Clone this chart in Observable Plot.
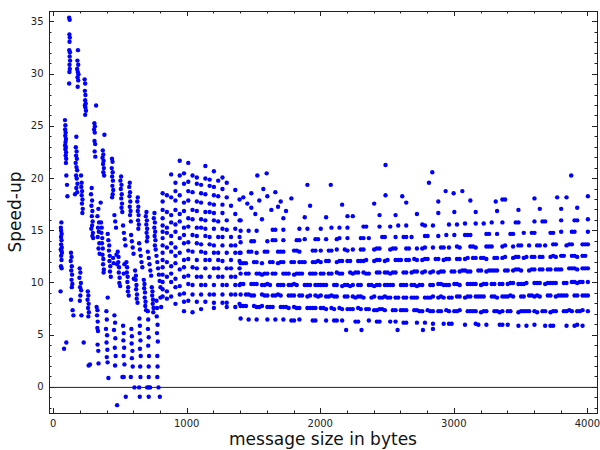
<!DOCTYPE html>
<html><head><meta charset="utf-8">
<script src="https://cdn.jsdelivr.net/npm/d3@7"></script>
<script src="https://cdn.jsdelivr.net/npm/@observablehq/plot@0.6"></script>
<style>body{margin:0;background:#fff}svg{display:block}</style>
</head><body><div id="chart"></div>
<script>
// ---- tick labels / axis titles ----
const xTicks = [0, 1000, 2000, 3000, 4000];
const yTicks = [0, 5, 10, 15, 20, 25, 30, 35];
const xMinorTicks = [200,400,600,800,1200,1400,1600,1800,2200,2400,2600,2800,3200,3400,3600,3800];
const yMinorTicks = [-2,-1,1,2,3,4,6,7,8,9,11,12,13,14,16,17,18,19,21,22,23,24,26,27,28,29,31,32,33,34];
const xTitle = "message size in bytes";
const yTitle = "Speed-up";

// ---- small message sizes: columns of points [size, speed-up] ----
const leftTop = [
 [116,35.4],[120,35.2],[118,33.8],[121,33.5],[119,33.1],[117,32.3],[122,32.1],[120,31.7],[123,31.3],[119,30.9],[121,30.5],[118,30.2],[116,29.1],
 [85,25.6],[88,25.1],[86,24.7],[90,24.4],[87,24.1],[92,23.8],[89,23.5],[86,23.2],[91,23.0],[88,22.8],[93,22.5],[90,22.2],[94,21.9],[92,21.5],[95,20.3],[100,19.4],[103,18.3],
 [182,32.3],[178,31.3],[184,30.9],[176,30.5],[181,30.2],[186,30.0],[179,29.7],[184,29.4],[180,28.8],
 [170,24.0],[166,23.0],[172,22.6],[168,22.2],[174,21.9],[165,21.5],[171,21.1],[176,20.8],[168,20.3],[173,20.0],[178,19.5],[170,19.1],[176,18.7],[160,18.5],
 [232,29.5],[236,29.1],[234,28.4],[238,28.0],[236,27.5],[240,27.2],[234,27.0],[238,26.8],[242,26.5],[236,26.1],
 [205,20.3],[210,19.6],[207,19.2],[213,18.8],[210,18.4],[216,18.0],[212,17.6],[218,17.1],[215,16.7],
 [318,27.0],[305,25.3],[309,25.0],[303,24.7],[308,24.4],[306,23.6],[311,23.3],[307,22.6],[312,22.1],
 [285,19.1],[280,18.5],[288,17.9],[283,17.4],[290,16.9],[286,16.4],[292,15.9],[288,15.5],[282,15.2],[294,14.8],[290,14.5],[296,14.3],
 [380,24.2],[368,22.7],[372,22.3],[366,22.0],[374,21.7],[370,21.4],[376,21.0],[372,20.6],[378,20.3],[352,17.7],
 [437,21.9],[441,21.6],[435,21.0],[442,20.6],[438,20.2],[444,19.8],[440,19.3],[446,18.9],[442,18.5],[438,18.2],
 [505,20.2],[500,19.8],[508,19.4],[503,19.0],[510,18.5],[506,18.1],[512,17.6],[508,17.2],[514,16.8],
 [570,19.6],[566,19.2],[572,18.7],[568,18.3],[574,17.8],[570,17.3],[576,16.9],[572,16.5],[578,15.9],
 [630,18.2],[626,17.8],[634,17.3],[630,16.9],[636,16.5],[632,16.0],[638,15.6],[634,15.2],
 [695,16.8],[690,16.4],[698,16.0],[694,15.6],[700,15.2],[696,14.8],[702,14.4],[698,14.0],
 [755,16.7],[750,16.2],[758,15.8],[754,15.3],[760,14.9],[756,14.5],[762,14.1],[758,13.6],[764,13.2]
];
const leftMid = [
 [58,15.8],[54,15.3],[56,15.0],[60,14.7],[55,14.4],[59,14.1],[56,13.7],[61,13.4],[53,13.2],[58,13.1],[62,12.9],[56,12.6],[59,12.2],[55,11.6],[60,11.4],[52,9.2],
 [130,12.9],[134,12.5],[128,12.1],[136,11.6],[132,11.2],[138,10.8],[134,10.3],[140,9.9],[136,9.6],[130,8.4],[142,7.4],[148,6.9],
 [195,11.4],[200,11.0],[193,10.5],[204,10.0],[198,9.6],[206,9.3],[200,8.8],[196,8.3],[208,6.9],
 [256,9.2],[260,8.8],[254,8.4],[262,8.0],[258,7.6],[264,7.2],[260,6.8],
 [335,17.1],[328,16.4],[340,15.8],[332,15.3],[338,14.9],[330,14.4],[342,13.8],[336,13.3],[344,12.8],
 [355,15.8],[360,15.3],[358,14.8],[364,14.3],[362,13.8],[368,13.3],[366,12.7],[372,12.3],[370,11.8],[376,11.3],[374,11.0],
 [405,14.7],[410,14.1],[416,13.6],[414,13.1],[420,12.6],[418,12.1],[424,11.6],[422,11.1],[428,10.6],[445,12.4],[450,11.9],[405,8.6],
 [455,16.5],[461,15.9],[467,15.3],
 [470,12.7],[475,11.8],[480,13.0],[486,12.5],[484,12.0],[490,11.5],[488,11.0],[494,10.5],[492,10.0],[498,9.7],
 [520,15.5],[526,14.8],[532,14.2],[538,13.6],
 [530,11.8],[525,10.9],[545,12.0],[550,11.5],[548,11.0],[554,10.6],[552,10.1],[558,9.6],[556,9.2],[562,8.8],
 [580,14.6],[586,14.0],[592,13.4],[598,12.8],
 [600,10.4],[610,11.2],[616,10.7],[614,10.3],[620,9.8],[618,9.4],[624,8.9],[622,8.5],[628,8.1],
 [640,13.8],[646,13.2],[652,12.6],[658,12.0],[664,11.5],
 [675,10.3],[680,9.9],[678,9.5],[684,9.1],[682,8.6],[688,8.2],[686,7.8],[692,7.4],
 [705,13.0],[712,12.4],[718,11.8],[724,11.2],[730,10.7],
 [735,9.6],[740,9.2],[738,8.8],[744,8.4],[742,8.0],[748,7.6],[746,7.2],
 [770,12.6],[776,12.0],[782,11.4],[788,10.8],[794,10.2],[800,9.6],[800,8.6],[805,7.7]
];
const leftLow = [
 [78,3.7],[95,4.3],[225,4.3],[262,2.1],[272,2.2],
 [322,7.7],[328,7.4],[325,6.9],[330,6.3],[327,5.7],[332,5.4],[329,4.1],[334,3.5],[336,2.3],
 [395,7.3],[398,6.5],[392,5.6],[400,5.0],[396,4.3],[402,3.6],[398,2.9],[404,2.4],[410,0.9],
 [455,6.9],[460,6.2],[452,5.5],[462,4.7],[458,3.8],[464,3.0],[460,2.1],[475,-1.7],
 [520,5.9],[525,5.2],[522,4.5],[528,3.8],[524,3.0],[530,2.2],[515,1.0],[525,1.0],[540,-0.9],
 [582,5.6],[586,4.9],[584,4.2],[590,3.5],[586,2.8],[592,2.0],[578,1.0],[605,0.0],
 [642,6.6],[646,5.9],[644,5.2],[650,4.5],[646,3.7],[652,3.0],[648,2.0],[650,1.0],[640,0.0],[645,-0.9],
 [705,7.3],[708,6.5],[706,5.6],[712,4.8],[708,4.0],[714,3.0],[712,2.0],[712,1.0],[700,0.0],[712,0.0],[722,0.0],[712,-0.9],
 [770,8.3],[774,7.6],[772,6.8],[778,6.0],[774,5.2],[780,4.4],[776,3.0],[778,2.0],[776,1.0],[785,0.0],[795,-0.9]
];

// ---- medium sizes: rows of speed-up on a shared size grid ----
const sizesMid = [816,848,880,912,944,976,1008,1040,1072,1104,1136,1168,1200,1232,1264,1296,1328,1360,1392];
const midRows = [
 [18.6,null,20.4,null,21.7,null,21.5,null,null,null,21.2,null,20.7,null,20.1,null,null,null,null],
 [17.8,18.4,null,19.6,20.3,20.5,null,20.3,20.1,null,20.0,19.9,null,19.8,null,19.6,null,null,null],
 [17.0,null,18.2,18.8,null,19.5,19.7,null,19.5,19.4,null,19.3,19.2,null,19.0,null,null,18.9,null],
 [16.2,16.8,null,17.9,18.4,null,18.8,18.7,null,18.6,18.5,null,18.4,18.3,null,18.2,null,null,18.0],
 [15.5,null,16.5,17.0,null,17.7,17.9,null,17.8,17.7,null,17.6,17.5,null,17.5,null,17.4,null,null],
 [14.9,15.3,15.8,null,16.6,16.9,null,17.0,16.9,null,16.8,16.8,16.7,null,16.7,null,null,16.6,null],
 [14.3,14.8,null,15.6,15.9,null,16.2,16.1,null,16.1,16.0,null,16.0,15.9,null,16.0,null,null,16.0],
 [13.6,null,14.5,14.9,null,15.3,15.4,null,15.3,15.3,15.2,null,15.2,null,15.2,15.1,null,15.2,null],
 [12.9,13.4,13.8,null,14.3,14.6,null,14.6,14.5,null,14.5,14.4,null,14.4,14.4,null,14.4,null,14.4],
 [12.2,null,13.0,13.4,null,13.8,13.9,null,13.8,13.7,null,13.7,13.6,null,13.6,null,13.6,13.6,null],
 [11.5,12.0,null,12.6,12.9,null,13.1,13.0,null,13.0,12.9,null,12.9,12.9,null,12.9,null,12.9,12.9],
 [10.8,null,11.6,11.9,null,12.2,12.3,null,12.2,null,12.2,12.2,null,12.2,12.1,null,12.2,null,12.1],
 [10.1,10.6,10.9,null,11.3,11.5,null,11.5,11.4,null,11.4,null,11.4,11.4,null,11.4,11.4,null,11.4],
 [9.4,null,10.1,10.4,null,10.6,10.7,null,10.6,10.6,null,10.6,null,10.6,10.6,null,10.6,10.6,null],
 [8.7,9.2,null,9.6,9.7,null,9.9,9.8,null,9.8,9.8,null,9.8,null,9.8,9.8,null,9.8,9.8],
 [null,8.5,8.7,null,8.9,9.0,null,8.9,null,8.9,null,8.9,8.9,null,8.9,null,8.9,8.9,null],
 [null,null,null,8.0,null,8.2,8.3,null,8.2,null,8.2,null,8.1,null,8.1,8.1,null,null,8.0],
 [null,null,null,null,null,7.3,null,7.2,null,7.5,null,null,7.6,null,null,7.7,null,7.7,null]
];

// ---- large sizes: rows of speed-up on two interleaved size grids ----
const sizesRight = [1400,1440,1480,1520,1560,1600,1640,1680,1720,1760,1800,1840,1880,1920,1960,2000,2040,2080,2120,2160,2200,2240,2280,2320,2360,2400,2440,2480,2520,2560,2600,2640,2680,2720,2760,2800,2840,2880,2920,2960,3000,3040,3080,3120,3160,3200,3240,3280,3320,3360,3400,3440,3480,3520,3560,3600,3640,3680,3720,3760,3800,3840,3880,3920,3960,4000];
const rightRows = [
 [6.6,null,null,6.5,null,6.5,null,null,6.5,null,6.4,6.5,null,null,6.4,
  null,6.4,null,6.4,6.4,null,null,6.3,null,6.4,null,6.3,null,6.3,6.3,
  null,6.2,null,6.2,null,null,6.1,null,6.1,6.1,null,null,6.0,null,6.1,
  null,6.0,null,null,6.0,6.0,null,5.9,null,null,6.0,null,5.9,5.9,null,null,5.9,null,6.0,5.9,null],
 [7.8,7.8,null,7.7,7.8,7.7,7.7,null,7.7,7.6,7.7,7.6,null,7.6,7.6,
  7.6,7.5,7.6,null,7.5,7.5,7.5,7.6,null,7.5,7.4,7.5,7.4,null,7.4,
  7.4,7.4,null,7.4,7.3,7.4,7.3,7.3,null,7.3,7.3,7.4,null,7.3,7.3,
  7.2,7.3,null,7.3,7.3,7.3,null,7.2,7.3,7.3,7.3,null,7.3,7.2,7.3,null,7.3,7.3,7.3,7.4,7.3],
 [8.9,8.9,8.8,null,8.9,8.8,8.8,8.9,null,8.8,8.8,8.8,null,8.8,8.8,
  8.8,8.7,8.8,8.7,null,8.7,8.7,8.7,8.6,null,8.7,8.6,8.7,8.6,8.6,
  null,8.6,8.6,8.6,null,8.6,8.7,8.6,8.6,8.6,null,8.7,8.6,8.7,8.7,
  8.7,null,8.7,8.6,8.7,8.7,8.7,null,8.7,8.8,8.7,8.7,null,8.8,8.7,8.8,8.8,null,8.8,8.8,8.8],
 [9.9,null,9.9,9.9,9.8,9.9,null,9.8,9.8,9.8,9.9,null,9.8,9.8,9.8,
  9.8,9.8,null,9.8,9.7,9.8,9.8,9.8,null,9.8,9.7,9.8,9.8,9.8,null,
  9.8,9.8,9.8,9.7,9.8,null,9.8,9.9,9.8,9.8,9.9,9.8,null,9.9,9.9,
  9.8,9.9,9.9,null,9.9,9.9,10.0,9.9,9.9,null,10.0,10.0,9.9,10.0,10.0,null,10.0,10.1,10.0,10.1,10.1],
 [10.9,10.9,null,10.9,10.8,10.9,10.9,null,10.9,10.9,10.8,10.9,null,10.9,10.9,
  10.9,null,10.9,11.0,10.9,null,10.9,11.0,11.0,10.9,null,11.0,11.0,10.9,11.0,
  null,11.0,11.0,11.1,11.0,null,11.1,11.0,11.1,null,11.1,11.1,11.2,11.1,null,
  11.2,11.1,11.2,11.2,null,11.2,11.2,11.3,null,11.2,11.3,11.3,null,11.3,11.3,11.3,null,11.4,11.3,11.4,11.4],
 [11.9,11.9,null,12.0,11.9,null,12.0,11.9,12.0,null,12.0,12.0,12.0,null,12.0,
  12.0,12.1,null,12.0,12.1,12.1,null,12.1,12.1,null,12.1,12.2,12.1,null,12.2,
  12.2,12.2,null,12.2,12.2,12.3,null,12.3,12.2,12.3,null,12.3,12.3,null,12.4,
  12.4,12.3,null,12.4,12.4,null,12.4,12.5,12.4,null,12.5,12.5,null,12.5,12.5,12.6,null,12.6,12.5,12.6,null],
 [12.9,null,13.0,12.9,null,13.0,null,13.0,13.0,null,13.1,13.0,null,null,13.1,
  13.1,null,13.1,13.2,null,13.1,13.2,null,13.2,null,13.2,13.3,null,13.2,13.3,
  null,13.3,null,13.3,13.3,null,13.4,null,13.4,13.4,null,13.4,null,13.5,13.4,
  null,13.5,13.5,null,13.5,null,13.5,13.6,null,13.6,null,13.6,13.6,null,13.7,null,13.6,13.7,null,13.7,13.7],
 [13.9,null,14.0,null,null,14.0,14.1,null,14.1,null,null,14.1,14.2,null,14.2,
  null,14.2,null,14.2,null,14.3,null,null,14.3,14.3,null,null,14.4,null,14.4,
  null,14.4,14.4,null,null,14.5,null,14.5,null,null,14.6,null,14.6,14.6,null,
  null,14.7,null,14.7,null,null,14.7,null,14.8,null,14.8,null,null,14.8,null,14.9,null,14.9,null,null,14.9],
 [15.0,null,null,15.0,null,null,15.1,null,15.1,null,null,15.2,null,null,null,
  15.2,null,15.3,null,null,15.3,null,null,15.4,null,null,15.4,null,15.4,null,
  null,15.5,null,null,15.6,null,15.5,null,null,15.6,null,null,15.7,null,15.7,
  null,null,15.8,null,15.8,null,null,15.8,null,null,15.9,null,15.9,null,null,16.0,null,null,16.0,null,16.1],
 [16.0,null,null,null,16.1,null,null,null,16.2,null,null,null,16.3,null,null,
  null,16.3,null,null,null,16.4,16.4,null,null,null,null,16.5,null,null,16.5,
  null,null,null,16.6,null,null,null,16.7,null,null,16.8,null,null,null,16.8,
  null,null,null,16.9,null,null,null,17.0,null,null,null,17.1,null,null,null,17.1,null,null,17.2,null,null],
 [null,null,17.2,null,null,null,null,17.3,null,null,null,null,null,17.4,null,
  null,null,null,null,17.5,null,null,null,null,null,17.6,null,null,null,null,
  null,17.7,null,null,null,null,null,17.8,null,null,null,null,null,17.9,null,
  null,null,null,null,18.0,null,null,null,null,null,18.1,null,null,null,null,null,18.2,null,null,null,18.3]
];
const sizesRight2 = [1420,1460,1500,1540,1580,1620,1660,1700,1740,1780,1820,1860,1900,1940,1980,2020,2060,2100,2140,2180,2220,2260,2300,2340,2380,2420,2460,2500,2540,2580,2620,2660,2700,2740,2780,2820,2860,2900,2940,2980,3020,3060,3100,3140,3180,3220,3260,3300,3340,3380,3420,3460,3500,3540,3580,3620,3660,3700,3740,3780,3820,3860,3900,3940,3980];
const rightRows2 = [
 [null,6.5,null,null,null,null,6.5,null,null,6.4,null,null,null,6.4,null,
  null,null,6.4,null,null,null,6.3,null,null,null,6.3,null,null,null,null,
  6.2,null,null,null,6.2,null,null,null,null,6.1,null,null,null,null,6.0,
  null,null,null,6.0,null,null,null,null,5.9,null,null,null,null,5.9,null,null,null,5.9,null,null],
 [7.8,null,7.8,7.7,null,7.7,null,7.7,7.7,null,7.6,null,7.6,7.6,null,
  7.6,null,7.5,7.6,null,7.5,null,7.5,7.5,null,7.4,7.5,null,7.4,null,
  7.4,null,7.4,7.3,null,7.3,null,7.3,7.4,null,7.3,null,7.3,7.3,null,
  7.3,null,7.3,7.2,null,7.3,null,7.3,7.3,null,7.2,7.3,null,7.3,null,7.3,7.4,null,7.3,null],
 [null,8.9,8.8,null,8.8,null,8.8,8.8,null,8.8,null,8.8,8.7,null,8.7,
  null,8.7,8.7,null,8.7,null,8.6,8.7,null,8.6,null,8.6,8.6,null,8.6,
  8.6,null,8.6,null,8.6,8.6,null,8.7,null,8.6,8.7,null,8.7,null,8.7,
  8.7,null,8.7,null,8.7,8.8,null,8.7,null,8.8,8.8,null,8.8,null,8.8,8.8,null,8.8,null,8.8],
 [9.9,null,9.9,null,9.8,9.8,null,9.8,null,9.8,9.8,null,9.8,null,9.8,
  9.8,null,9.8,null,9.8,9.7,null,9.8,null,9.8,9.8,null,9.8,9.8,null,
  9.8,null,9.8,9.8,null,9.8,null,9.9,9.8,null,9.9,null,9.9,9.9,null,
  9.9,null,9.9,9.9,null,10.0,null,9.9,10.0,null,10.0,null,10.0,10.0,null,10.0,null,10.1,10.1,null],
 [null,10.9,null,10.9,10.9,null,10.9,null,10.9,null,10.9,10.9,null,10.9,null,
  10.9,10.9,null,10.9,null,11.0,11.0,null,10.9,null,11.0,null,11.0,11.0,null,
  11.0,null,11.1,null,11.1,11.0,null,11.1,null,11.1,null,11.2,11.1,null,11.2,
  null,11.2,11.2,null,11.2,null,11.3,11.2,null,11.3,null,11.3,11.3,null,11.3,null,11.4,11.4,null,11.4],
 [11.9,null,12.0,null,null,12.0,null,12.0,null,12.0,null,12.0,null,12.0,12.1,
  null,12.1,null,12.1,null,12.1,null,12.1,12.2,null,12.2,null,12.2,null,12.2,
  null,12.2,12.3,null,12.3,null,12.3,null,12.3,null,12.3,null,12.4,12.4,null,
  12.4,null,12.4,null,12.5,null,12.5,null,12.5,12.5,null,12.5,null,12.6,null,12.6,null,12.6,null,12.6],
 [null,13.0,null,null,13.0,null,null,13.0,null,null,13.1,null,null,13.1,null,
  null,13.1,null,null,13.2,null,null,13.2,null,null,13.3,null,null,13.3,null,
  null,13.3,null,null,13.4,null,null,13.4,null,null,13.5,null,null,13.5,null,
  null,13.5,null,null,13.6,null,null,13.6,null,null,13.6,null,null,13.7,null,null,13.7,null,null,13.7],
 [null,null,14.0,null,null,null,14.1,null,null,null,14.1,null,null,null,14.2,
  null,null,null,14.3,null,null,null,14.3,null,null,null,14.4,null,null,null,
  14.4,null,null,null,14.5,null,null,null,14.6,null,null,null,14.6,null,null,
  null,14.7,null,null,null,14.7,null,null,null,14.8,null,null,null,14.8,null,null,null,14.9,null,null],
 [null,15.0,null,null,null,null,15.1,null,null,null,null,null,15.2,null,null,
  null,null,null,15.3,null,null,null,null,15.4,null,null,null,null,null,15.5,
  null,null,null,null,15.5,null,null,null,null,null,15.6,null,null,null,null,
  15.7,null,null,null,null,null,15.8,null,null,null,null,15.9,null,null,null,null,null,16.0,null,null]
];
const outliers = [
 [1525,20.3],[1595,20.5],[1900,19.4],[2075,19.4],[2485,21.3],[2485,18.4],[2610,18.3],[2810,19.6],[2835,20.6],
 [2935,18.8],[2995,18.6],[3060,18.8],[3310,17.8],[3380,18.0],[3770,18.2],[3875,20.3],
 [1420,18.2],[1450,17.6],[1480,18.6],[1510,16.6],[1540,17.9],[1570,19.0],[1600,18.3],[1630,17.0],[1660,18.7],[1700,17.8],[1740,16.9],[1780,18.1],
 [2190,5.5],[2305,5.5],[2575,5.5],[2765,5.5],[2840,5.6]
];

// ---- assemble ----
const pts = [];
for (const [x, y] of [...leftTop, ...leftMid, ...leftLow, ...outliers]) pts.push({x, y});
midRows.forEach(row => row.forEach((y, j) => { if (y != null) pts.push({x: sizesMid[j], y}); }));
rightRows.forEach(row => row.forEach((y, j) => { if (y != null && j < sizesRight.length) pts.push({x: sizesRight[j], y}); }));
rightRows2.forEach(row => row.forEach((y, j) => { if (y != null && j < sizesRight2.length) pts.push({x: sizesRight2[j], y}); }));

const font = "DejaVu Sans";
const plot = Plot.plot({
  width: 600, height: 450,
  marginLeft: 49, marginRight: 3, marginTop: 11, marginBottom: 37,
  style: {fontFamily: font, background: "#fff"},
  x: {domain: [-31, 4072], axis: null},
  y: {domain: [-2.5, 36], axis: null},
  marks: [
    Plot.ruleY([0], {stroke: "#222", strokeWidth: 1}),
    Plot.dot(pts, {x: "x", y: "y", r: 2.2, fill: "#0000ff", stroke: "none"}),
    Plot.frame({stroke: "#222", strokeWidth: 1})
  ]
});

const sx = plot.scale("x"), sy = plot.scale("y");
const [L, R] = sx.range, [B, T] = sy.range;
const svg = d3.select(plot);
const g = svg.append("g").attr("stroke", "#222").attr("stroke-width", 1);
function vtick(v, len) {
  const px = Math.round(sx.apply(v)) + 0.5;
  g.append("line").attr("x1", px).attr("x2", px).attr("y1", B).attr("y2", B - len);
  g.append("line").attr("x1", px).attr("x2", px).attr("y1", T).attr("y2", T + len);
}
function htick(v, len) {
  const py = Math.round(sy.apply(v)) + 0.5;
  g.append("line").attr("y1", py).attr("y2", py).attr("x1", L).attr("x2", L + len);
  g.append("line").attr("y1", py).attr("y2", py).attr("x1", R).attr("x2", R - len);
}
xTicks.forEach(v => vtick(v, 5));
xMinorTicks.forEach(v => vtick(v, 2.5));
yTicks.forEach(v => htick(v, 5));
yMinorTicks.forEach(v => htick(v, 2.5));

const lab = svg.append("g").attr("fill", "#222").attr("font-family", font).attr("font-size", 10);
xTicks.forEach(v => lab.append("text").attr("x", sx.apply(v)).attr("y", B + 14)
  .attr("text-anchor", "middle").text(v));
yTicks.forEach(v => lab.append("text").attr("x", L - 5.5).attr("y", sy.apply(v)).attr("dy", "0.35em")
  .attr("text-anchor", "end").text(v));
svg.append("text").attr("x", (L + R) / 2).attr("y", 444.5).attr("text-anchor", "middle")
  .attr("font-family", font).attr("font-size", 17).attr("fill", "#111").text(xTitle);
svg.append("text").attr("transform", `translate(21,${(T + B) / 2}) rotate(-90)`).attr("text-anchor", "middle")
  .attr("font-family", font).attr("font-size", 17).attr("fill", "#111").text(yTitle);

document.getElementById("chart").appendChild(plot);
</script>
</body></html>
